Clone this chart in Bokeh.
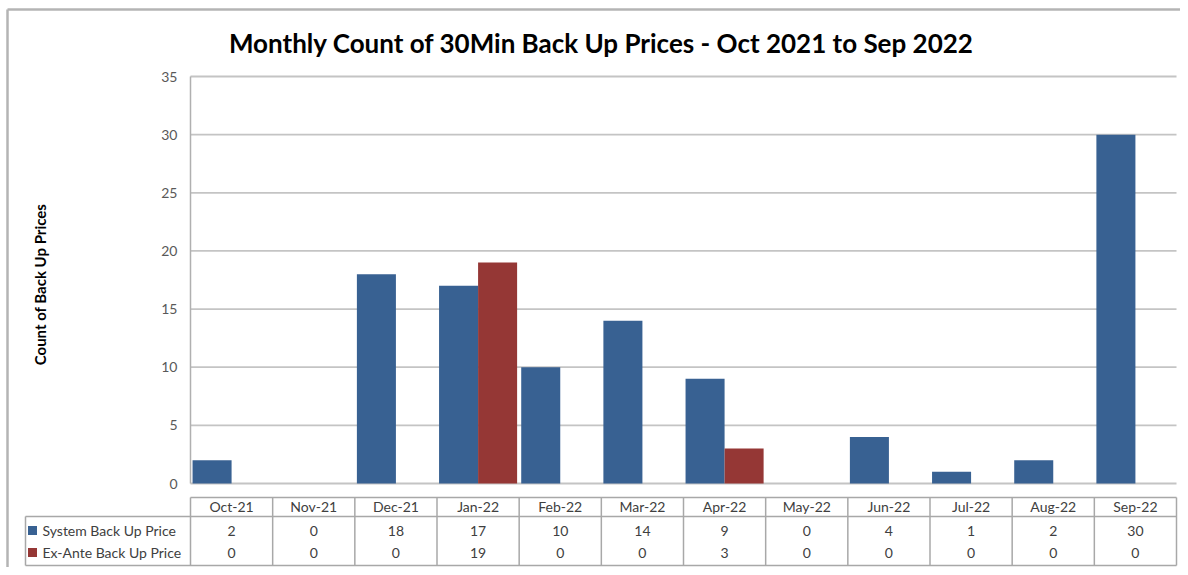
import numpy as np
from bokeh.plotting import figure
from bokeh.models import Range1d, FixedTicker, Label
from bokeh.embed import file_html
from bokeh.resources import INLINE
from bokeh.core.properties import value

# ---------------- data ----------------
months = ["Oct-21", "Nov-21", "Dec-21", "Jan-22", "Feb-22", "Mar-22",
          "Apr-22", "May-22", "Jun-22", "Jul-22", "Aug-22", "Sep-22"]
system_values = [2, 0, 18, 17, 10, 14, 9, 0, 4, 1, 2, 30]
exante_values = [0, 0, 0, 19, 0, 0, 3, 0, 0, 0, 0, 0]
series_names = ["System Back Up Price", "Ex-Ante Back Up Price"]
y_ticks = [0, 5, 10, 15, 20, 25, 30, 35]
TITLE = "Monthly Count of 30Min Back Up Prices - Oct 2021 to Sep 2022"
Y_TITLE = "Count of Back Up Prices"

# ---------------- layout (figure pixel coordinates) ----------------
W, H = 1180, 567
AX_X0, AX_X1 = 190, 1176        # plot area left/right
AX_Y0, AX_Y35 = 483, 76         # pixel of value 0 and value 35
NCAT = len(months)
cat_w = (AX_X1 - AX_X0) / NCAT
ppu = (AX_Y0 - AX_Y35) / 35.0


def fx(px):
    return (px - AX_X0) / cat_w


def fy(py):
    return (AX_Y0 - py) / ppu


BLUE = "#386192"
RED = "#953735"
GRID = "#c4c4c4"
TBL = "#a8a8a8"
FONT = "Lato"

p = figure(width=W, height=H, output_backend="svg", toolbar_location=None,
           x_range=Range1d(fx(0), fx(W)),
           y_range=Range1d(fy(H), fy(0)),
           min_border=0, tools="")
p.background_fill_color = "white"
p.border_fill_color = "white"
p.outline_line_color = None
p.xgrid.visible = False
p.ygrid.visible = False
p.xaxis.visible = False

# outer chart border (top and left visible)
p.segment(x0=[fx(7), fx(7)], x1=[fx(W), fx(7)], y0=[fy(9), fy(9)], y1=[fy(9), fy(H)],
          line_color="#b4b4b4", line_width=2.5)

# y axis drawn at the plot-area left edge
ya = p.yaxis[0]
ya.fixed_location = 0
ya.bounds = (0, 35)
ya.ticker = FixedTicker(ticks=y_ticks)
ya.axis_line_color = "#b0b0b0"
ya.axis_line_width = 1.5
ya.major_tick_line_color = None
ya.minor_tick_line_color = None
ya.major_tick_out = 0
ya.major_tick_in = 0
ya.major_label_standoff = 13
ya.major_label_text_font = FONT
ya.major_label_text_font_size = "14px"
ya.major_label_text_color = "#595959"

# gridlines
p.segment(x0=0, x1=NCAT, y0=y_ticks, y1=y_ticks, line_color=GRID, line_width=1.8)

# bars
centers = np.arange(NCAT) + 0.5
bw = 0.475
p.vbar(x=centers - bw / 2, top=system_values, width=bw, bottom=0,
       fill_color=BLUE, line_color=None)
p.vbar(x=centers + bw / 2, top=exante_values, width=bw, bottom=0,
       fill_color=RED, line_color=None)

# ---------------- data table ----------------
hdr_top, hdr_bot, tbl_bot, leg_left = 497, 516, 565, 25
row_hdr, row1, row2 = 506, 530, 552
# horizontal lines
p.segment(x0=[0, fx(leg_left), fx(leg_left)], x1=[NCAT, NCAT, NCAT],
          y0=[fy(hdr_top), fy(hdr_bot), fy(tbl_bot)],
          y1=[fy(hdr_top), fy(hdr_bot), fy(tbl_bot)],
          line_color=TBL, line_width=1.5)
# vertical lines
p.segment(x0=list(range(NCAT + 1)), x1=list(range(NCAT + 1)),
          y0=fy(hdr_top), y1=fy(tbl_bot), line_color=TBL, line_width=1.5)
p.segment(x0=fx(leg_left), x1=fx(leg_left), y0=fy(hdr_bot), y1=fy(tbl_bot),
          line_color=TBL, line_width=1.5)

txt = dict(text_font=value(FONT), text_font_size="14px", text_color="#404040",
           text_align="center", text_baseline="middle")
p.text(x=centers, y=fy(row_hdr), text=months, **txt)
p.text(x=centers, y=fy(row1), text=[str(v) for v in system_values], **txt)
p.text(x=centers, y=fy(row2), text=[str(v) for v in exante_values], **txt)

# legend keys in table
p.scatter(x=[fx(32), fx(32)], y=[fy(row1), fy(row2)], marker="square", size=9,
          fill_color=[BLUE, RED], line_color=None)
p.text(x=[fx(42), fx(42)], y=[fy(row1), fy(row2)], text=series_names,
       text_font=value(FONT), text_font_size="14px", text_color="#404040",
       text_align="left", text_baseline="middle")

# titles
p.add_layout(Label(x=fx(601), y=fy(42), text=TITLE, text_font=FONT,
                   text_font_size="26px", text_font_style="bold",
                   text_color="#000000", text_align="center",
                   text_baseline="middle"))
p.add_layout(Label(x=fx(39), y=fy(284), text=Y_TITLE, angle=np.pi / 2,
                   text_font=FONT, text_font_size="15px",
                   text_font_style="bold", text_color="#000000",
                   text_align="center", text_baseline="middle"))

open("out.html", "w").write(file_html(p, INLINE))
